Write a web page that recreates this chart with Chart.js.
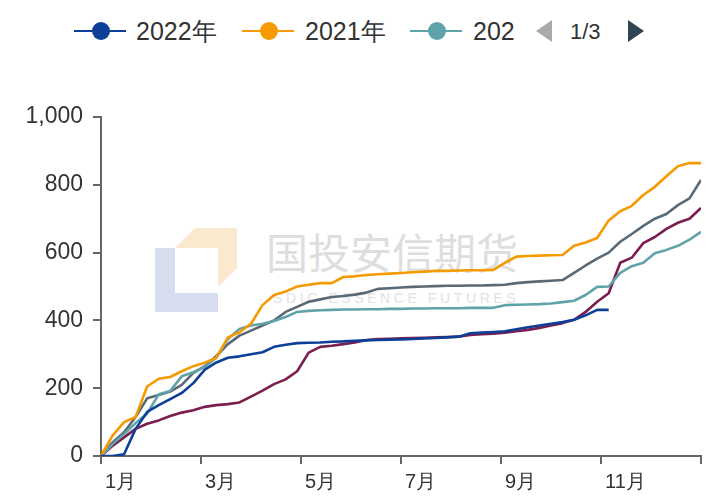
<!DOCTYPE html>
<html><head><meta charset="utf-8">
<script src="https://cdn.jsdelivr.net/npm/chart.js@4/dist/chart.umd.min.js"></script>
<style>
html,body{margin:0;padding:0;background:#fff;width:707px;height:497px;overflow:hidden;font-family:"Liberation Sans",Arial,sans-serif;}
#wrap{position:relative;width:707px;height:497px;}
#c{position:absolute;left:0;top:0;z-index:2;}
.abs{position:absolute;}
.lline{position:absolute;height:2px;width:52px;}
.ldot{position:absolute;width:18px;height:18px;border-radius:50%;}
.ltxt{position:absolute;font-size:25px;color:#333;line-height:26px;white-space:nowrap;}
.wm{position:absolute;z-index:1;}
</style></head>
<body><div id="wrap">
<div class="wm" style="left:155px;top:248px;width:20px;height:64px;background:#d6ddef"></div>
<div class="wm" style="left:155px;top:293px;width:63px;height:19px;background:#d6ddef"></div>
<div class="wm" style="left:175px;top:228px;width:62px;height:59px;background:#fbe9cf;clip-path:polygon(20px 0,62px 0,62px 40px,43px 59px,43px 20px,0 20px)"></div>
<div class="wm" style="left:266px;top:226px;font-family:'Noto Sans CJK SC';font-size:42px;line-height:50px;color:#dedede;white-space:nowrap">国投安信期货</div>
<div class="wm" style="left:273px;top:290px;font-family:'Liberation Sans';font-size:14px;line-height:16px;letter-spacing:3.6px;color:#e2e2e2;white-space:nowrap">SDIC ESSENCE FUTURES</div>
<div id="legend"></div>
<canvas id="c" width="707" height="497"></canvas>
</div>
<script>
const monthLabels = ['1月','3月','5月','7月','9月','11月'];
const seriesNames = ['2022年','2021年','2020年','2019年','2018年'];
const legendShown = ['2022年','2021年','202'];
const seriesColors = ['#0b3f98','#f59a00','#5fa3a9','#596a76','#7a1e4f'];
// weekly cumulative values (week 0 .. 52)
const v2022 = [0,0,5,80,130,150,168,186,215,255,276,290,294,300,306,322,328,333,334,335,337,338,340,341,342,343,344,345,347,348,350,352,362,364,366,368,374,380,385,390,395,402,415,431,431];
const v2021 = [0,60,100,115,205,228,233,250,265,275,290,350,365,390,445,475,485,500,505,510,510,528,530,534,536,538,540,542,544,546,546,547,548,548,549,570,588,590,591,592,593,620,630,643,695,722,738,770,794,825,855,864,864];
const v2020 = [0,35,65,97,125,182,192,235,247,263,290,345,375,385,390,398,410,425,428,430,431,432,432,433,433,434,434,435,435,436,436,436,437,437,437,445,446,447,448,450,454,458,475,499,500,540,560,570,598,608,620,638,661];
const v2019 = [0,40,70,115,170,180,190,210,245,265,295,330,355,370,385,400,425,440,455,462,469,472,476,482,493,495,497,499,500,501,502,502,503,503,504,505,510,513,515,517,519,540,562,582,600,632,655,679,700,714,740,760,814];
const v2018 = [0,30,55,80,95,105,118,128,135,145,150,153,158,175,193,212,226,250,305,322,325,330,335,342,345,346,347,348,349,350,351,352,357,359,361,364,368,372,378,385,392,402,425,455,480,570,585,628,646,670,688,700,732];
const allSeries = [v2022, v2021, v2020, v2019, v2018];

const WEEKS_PER_YEAR = 52;
function toPoints(arr){ return arr.map((y,i)=>({x: i*12/WEEKS_PER_YEAR, y})); }

// HTML legend
const legendPos = [{line:74,dot:92,txt:136},{line:242,dot:260,txt:305},{line:410,dot:428,txt:473}];
const lg = document.getElementById('legend');
const LY = 31;
legendShown.forEach((name,i)=>{
  const p = legendPos[i];
  lg.insertAdjacentHTML('beforeend',
    `<div class="lline" style="left:${p.line}px;top:${LY-1}px;background:${seriesColors[i]}"></div>`+
    `<div class="ldot" style="left:${p.dot}px;top:${LY-9}px;background:${seriesColors[i]}"></div>`+
    `<div class="ltxt" style="left:${p.txt}px;top:${LY-13}px">${name}</div>`);
});
lg.insertAdjacentHTML('beforeend',
  `<div class="abs" style="left:536px;top:${LY-11}px;width:0;height:0;border-top:11px solid transparent;border-bottom:11px solid transparent;border-right:16px solid #aaaaaa"></div>`+
  `<div class="ltxt" style="left:570px;top:${LY-12}px;font-size:22px">1/3</div>`+
  `<div class="abs" style="left:628px;top:${LY-11}px;width:0;height:0;border-top:11px solid transparent;border-bottom:11px solid transparent;border-left:16px solid #2f4554"></div>`);

const FONT = "'Liberation Sans', Arial, sans-serif";
new Chart(document.getElementById('c'), {
  type: 'line',
  data: {
    datasets: allSeries.map((arr,i)=>({
      label: seriesNames[i],
      data: toPoints(arr),
      borderColor: seriesColors[i],
      backgroundColor: seriesColors[i],
      borderWidth: 2.6,
      pointRadius: 0,
      tension: 0,
      borderJoinStyle: 'round',
      fill: false
    }))
  },
  options: {
    responsive: false,
    animation: false,
    devicePixelRatio: 1,
    layout: { padding: { top: 117, right: 1, left: 0, bottom: 0 } },
    plugins: { legend: { display: false }, tooltip: { enabled: false } },
    scales: {
      x: {
        type: 'linear', min: 0, max: 12,
        afterFit: s => { s.height = 41; },
        border: { color: '#666', width: 2 },
        grid: { drawOnChartArea: false, drawTicks: true, tickLength: 8, color: '#666', lineWidth: 2 },
        ticks: {
          stepSize: 2, autoSkip: false, maxRotation: 0, align: 'start', labelOffset: 4, padding: 6,
          color: '#333', font: { size: 20, family: FONT },
          callback: v => (v < 12 ? monthLabels[v/2] : '')
        }
      },
      y: {
        min: 0, max: 1000,
        afterFit: s => { s.width = 101; },
        border: { color: '#666', width: 2 },
        grid: { drawOnChartArea: false, drawTicks: true, tickLength: 8, color: '#666', lineWidth: 2 },
        ticks: {
          stepSize: 200, padding: 10, color: '#333', font: { size: 23, family: FONT },
          callback: v => v.toLocaleString('en-US')
        }
      }
    }
  }
});
</script>
</body></html>
